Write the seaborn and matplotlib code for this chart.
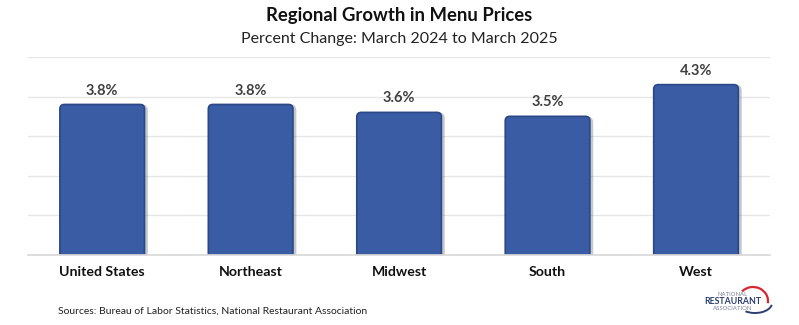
import matplotlib
matplotlib.use("Agg")
import matplotlib.pyplot as plt
import matplotlib.patheffects as pe
from matplotlib.patches import FancyBboxPatch, Arc
import seaborn as sns
import pandas as pd

regions = ["United States", "Northeast", "Midwest", "South", "West"]
values = [3.8, 3.8, 3.6, 3.5, 4.3]
labels = ["3.8%", "3.8%", "3.6%", "3.5%", "4.3%"]

sns.set_theme(style="white")
plt.rcParams['font.family'] = ['Lato', 'DejaVu Sans']

df = pd.DataFrame({"region": regions, "value": values})

fig = plt.figure(figsize=(7.99, 3.25), dpi=100)
ax = fig.add_axes([0.035, 0.215, 0.929, 0.61])

sns.barplot(data=df, x="region", y="value", color="#3A5CA4", width=0.57,
            saturation=1, ax=ax, zorder=3)

# replace the bars with rounded-top versions at the same positions
bars = list(ax.patches)
for p in bars:
    x, y = p.get_x(), p.get_y()
    w, h = p.get_width(), p.get_height()
    p.set_visible(False)
    fb = FancyBboxPatch((x, y - 0.15), w, h + 0.15,
                        boxstyle="round,pad=0,rounding_size=0.03",
                        mutation_aspect=3.8,
                        facecolor="#3A5CA4", edgecolor="#2B4785", linewidth=1.2,
                        zorder=3, clip_on=True)
    fb.set_path_effects([pe.SimpleLineShadow(offset=(1.2, -1.2), shadow_color="#5a6478",
                                             alpha=0.35, linewidth=2.5), pe.Normal()])
    ax.add_patch(fb)

ax.set_ylim(0, 5)
ax.set_yticks([0, 1, 2, 3, 4, 5])
ax.yaxis.grid(True, color="#e6e6e6", linewidth=1, zorder=0)
ax.set_yticklabels([])
ax.tick_params(axis="y", length=0)
for s in ["top", "right", "left"]:
    ax.spines[s].set_visible(False)
ax.spines["bottom"].set_color("#d9d9d9")
ax.spines["bottom"].set_zorder(4)
ax.set_xlabel("")
ax.set_ylabel("")
ax.tick_params(axis="x", length=0, pad=8)
for t in ax.get_xticklabels():
    t.set_fontweight("bold")
    t.set_fontsize(10.2)
    t.set_color("#111111")

for i, (v, lab) in enumerate(zip(values, labels)):
    ax.annotate(lab, (i, v), xytext=(0, 5), textcoords="offset points",
                ha="center", va="bottom", fontsize=10.5, fontweight="bold", color="#404040")

fig.text(0.5, 1 - 16/325, "Regional Growth in Menu Prices", ha="center", va="center",
         fontsize=13.3, fontweight="bold", color="#111111")
fig.text(0.5, 1 - 39/325, "Percent Change: March 2024 to March 2025", ha="center", va="center",
         fontsize=11.5, color="#222222")
fig.text(58/799, 1 - 311/325, "Sources: Bureau of Labor Statistics, National Restaurant Association",
         ha="left", va="center", fontsize=7.5, color="#222222")

# logo as text with arcs
fig.text(733/799, 1 - 294/325, "NATIONAL", ha="center", va="center", fontsize=4.3, color="#7a869a")
fig.text(733/799, 1 - 301.5/325, "RESTAURANT", ha="center", va="center", fontsize=6.3, fontweight="bold", color="#2b3f73")
fig.text(733/799, 1 - 309/325, "ASSOCIATION", ha="center", va="center", fontsize=4.3, color="#7a869a")
fig.add_artist(Arc((753/799, 1 - 301/325), 30/799, 28/325, theta1=-20, theta2=115,
                   transform=fig.transFigure, color="#d8262e", linewidth=1.6))
fig.add_artist(Arc((755/799, 1 - 303/325), 34/799, 20/325, theta1=245, theta2=345,
                   transform=fig.transFigure, color="#2b3f73", linewidth=1.4))

fig.savefig("out.png", dpi=100)
